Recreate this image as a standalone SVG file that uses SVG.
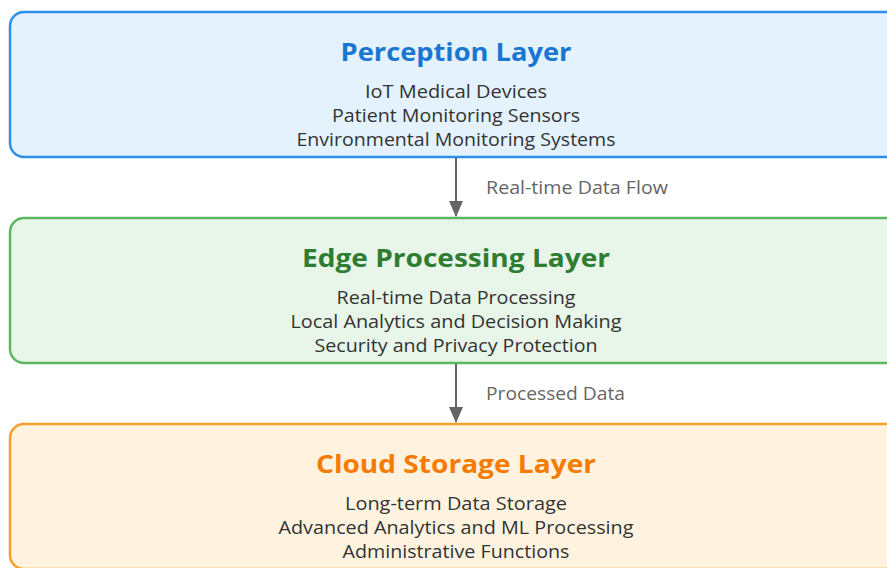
<svg xmlns="http://www.w3.org/2000/svg" width="887" height="568" viewBox="0 0 887 568">
<style>
text{font-family:"Open Sans","Noto Sans","Liberation Sans",sans-serif;text-anchor:middle}
.title{font-size:25px;font-weight:bold}
.item{font-size:18px;fill:#333}
.lbl{font-size:18px;fill:#666;text-anchor:start}
.box{stroke-width:2.5}
</style>
<defs>
<marker id="ah" markerWidth="8" markerHeight="7" refX="7.5" refY="3.5" orient="auto" markerUnits="strokeWidth">
<polygon points="0,0 8,3.5 0,7" fill="#666"/>
</marker>
</defs>
<rect width="887" height="568" fill="#fff"/>
<g id="perception">
<rect class="box" x="10" y="12" width="892" height="145" rx="14" fill="#E3F2FD" stroke="#2E8FEA"/>
<text class="title" x="456" y="61" fill="#1976D2" textLength="231" lengthAdjust="spacingAndGlyphs">Perception Layer</text>
<text class="item" x="456" y="98" textLength="182" lengthAdjust="spacingAndGlyphs">IoT Medical Devices</text>
<text class="item" x="456" y="122" textLength="248" lengthAdjust="spacingAndGlyphs">Patient Monitoring Sensors</text>
<text class="item" x="456" y="146" textLength="319" lengthAdjust="spacingAndGlyphs">Environmental Monitoring Systems</text>
</g>
<g id="edge">
<rect class="box" x="10" y="218" width="892" height="145" rx="14" fill="#E8F5E9" stroke="#5CB860"/>
<text class="title" x="456" y="267" fill="#2E7D32" textLength="308" lengthAdjust="spacingAndGlyphs">Edge Processing Layer</text>
<text class="item" x="456" y="304" textLength="239" lengthAdjust="spacingAndGlyphs">Real-time Data Processing</text>
<text class="item" x="456" y="328" textLength="331" lengthAdjust="spacingAndGlyphs">Local Analytics and Decision Making</text>
<text class="item" x="456" y="352" textLength="283" lengthAdjust="spacingAndGlyphs">Security and Privacy Protection</text>
</g>
<g id="cloud">
<rect class="box" x="10" y="424" width="892" height="145" rx="14" fill="#FFF3E0" stroke="#F5A02A"/>
<text class="title" x="456" y="473" fill="#F57C00" textLength="280" lengthAdjust="spacingAndGlyphs">Cloud Storage Layer</text>
<text class="item" x="456" y="510" textLength="222" lengthAdjust="spacingAndGlyphs">Long-term Data Storage</text>
<text class="item" x="456" y="534" textLength="355" lengthAdjust="spacingAndGlyphs">Advanced Analytics and ML Processing</text>
<text class="item" x="456" y="558" textLength="227" lengthAdjust="spacingAndGlyphs">Administrative Functions</text>
</g>
<g id="connectors">
<line x1="456" y1="158" x2="456" y2="216" stroke="#666" stroke-width="2" marker-end="url(#ah)"/>
<text class="lbl" x="486" y="194" textLength="182" lengthAdjust="spacingAndGlyphs">Real-time Data Flow</text>
<line x1="456" y1="364" x2="456" y2="422" stroke="#666" stroke-width="2" marker-end="url(#ah)"/>
<text class="lbl" x="486" y="400" textLength="139" lengthAdjust="spacingAndGlyphs">Processed Data</text>
</g>
</svg>
